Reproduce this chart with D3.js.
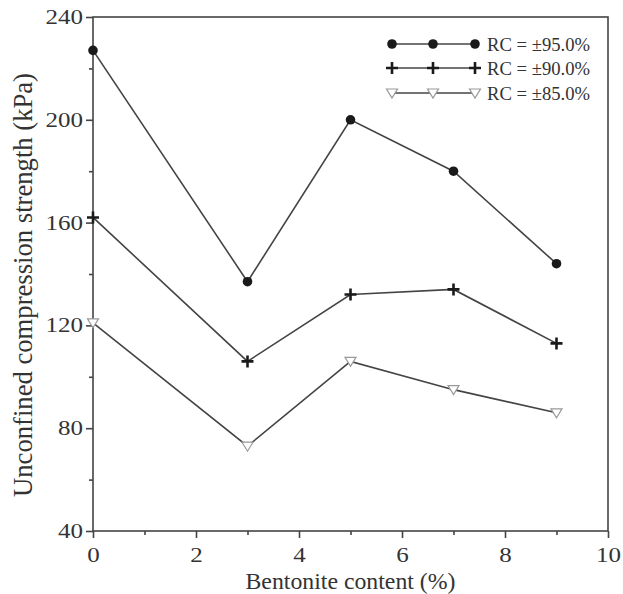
<!DOCTYPE html>
<html>
<head>
<meta charset="utf-8">
<script src="https://cdn.jsdelivr.net/npm/d3@7"></script>
<style>
  html, body { margin: 0; padding: 0; background: #fff; }
  svg { display: block; }
  text { font-family: "Liberation Serif", "Times New Roman", serif; fill: #333; }
</style>
</head>
<body>
<svg id="chart" width="623" height="594"></svg>
<script>
// Bentonite content (%) at each test point
const bentonite = [0, 3, 5, 7, 9];
// Unconfined compression strength (kPa) by relative compaction
const rc95 = [227, 137, 200, 180, 144];
const rc90 = [162, 106, 132, 134, 113];
const rc85 = [121, 73, 106, 95, 86];
const seriesNames = ["RC = \u00b195.0%", "RC = \u00b190.0%", "RC = \u00b185.0%"];
const xTicks = [0, 2, 4, 6, 8, 10];
const yTicks = [40, 80, 120, 160, 200, 240];

const svg = d3.select("#chart");
const plotL = 93, plotR = 608, plotT = 17, plotB = 531;

const x = d3.scaleLinear().domain([0, 10]).range([plotL, plotR]);
const y = d3.scaleLinear().domain([40, 240]).range([plotB, plotT]);

const axisColor = "#444";

// scale glyph advance by factor k (keeps anchor position)
function widen(sel, k) {
  sel.each(function () {
    const w = this.getComputedTextLength();
    d3.select(this).attr("textLength", w * k).attr("lengthAdjust", "spacingAndGlyphs");
  });
}

// frame
svg.append("rect")
  .attr("x", plotL).attr("y", plotT)
  .attr("width", plotR - plotL).attr("height", plotB - plotT)
  .attr("fill", "none").attr("stroke", axisColor).attr("stroke-width", 1.6);

// x axis: major and minor ticks pointing outward
const gx = svg.append("g").attr("transform", `translate(0,${plotB})`);
gx.call(d3.axisBottom(x).tickValues(d3.range(1, 10, 2)).tickSize(4).tickFormat(""));
gx.append("g").call(d3.axisBottom(x).tickValues(xTicks).tickSize(7).tickPadding(10).tickFormat(d3.format("d")));
gx.selectAll(".domain").remove();
gx.selectAll("line").attr("stroke", axisColor).attr("stroke-width", 1.6);
gx.selectAll("text").style("font-size", "20px").style("font-family", "'Liberation Serif', serif").attr("fill", "#333");
widen(gx.selectAll("text").filter(function () { return this.textContent !== ""; }), 1.25);

// y axis
const gy = svg.append("g").attr("transform", `translate(${plotL},0)`);
gy.call(d3.axisLeft(y).tickValues(d3.range(60, 240, 40)).tickSize(4).tickFormat(""));
gy.append("g").call(d3.axisLeft(y).tickValues(yTicks).tickSize(7).tickPadding(3).tickFormat(d3.format("d")));
gy.selectAll(".domain").remove();
gy.selectAll("line").attr("stroke", axisColor).attr("stroke-width", 1.6);
gy.selectAll("text").style("font-size", "20px").style("font-family", "'Liberation Serif', serif").attr("fill", "#333");
widen(gy.selectAll("text").filter(function () { return this.textContent !== ""; }), 1.25);

// axis titles
svg.append("text")
  .attr("x", (plotL + plotR) / 2).attr("y", 589)
  .attr("text-anchor", "middle")
  .attr("textLength", 210).attr("lengthAdjust", "spacingAndGlyphs")
  .style("font-size", "24px")
  .text("Bentonite content (%)");

svg.append("text")
  .attr("transform", `translate(32,285) rotate(-90)`)
  .attr("text-anchor", "middle")
  .attr("textLength", 424).attr("lengthAdjust", "spacingAndGlyphs")
  .style("font-size", "27px")
  .text("Unconfined compression strength (kPa)");

// marker shapes
function drawMarker(g, kind, cx, cy) {
  if (kind === "circle") {
    g.append("circle").attr("cx", cx).attr("cy", cy).attr("r", 4.8).attr("fill", "#1a1a1a");
  } else if (kind === "plus") {
    g.append("path")
      .attr("d", `M${cx - 6},${cy}H${cx + 6}M${cx},${cy - 6}V${cy + 6}`)
      .attr("stroke", "#1a1a1a").attr("stroke-width", 2.6).attr("fill", "none");
  } else {
    g.append("path")
      .attr("d", `M${cx - 5.5},${cy - 4}L${cx + 5.5},${cy - 4}L${cx},${cy + 5}Z`)
      .attr("stroke", "#999").attr("stroke-width", 1.2).attr("fill", "#fff");
  }
}

const series = [
  { name: seriesNames[0], values: rc95, marker: "circle" },
  { name: seriesNames[1], values: rc90, marker: "plus" },
  { name: seriesNames[2], values: rc85, marker: "tri" }
];

const line = d3.line().x(d => x(d[0])).y(d => y(d[1]));

series.forEach(s => {
  const pts = bentonite.map((b, i) => [b, s.values[i]]);
  svg.append("path")
    .attr("d", line(pts))
    .attr("fill", "none").attr("stroke", "#444").attr("stroke-width", 1.6);
  const g = svg.append("g");
  pts.forEach(p => drawMarker(g, s.marker, x(p[0]), y(p[1])));
});

// legend
const legend = svg.append("g");
const legendRows = [44, 68, 93];
series.forEach((s, i) => {
  const ly = legendRows[i];
  legend.append("line")
    .attr("x1", 392).attr("x2", 475).attr("y1", ly).attr("y2", ly)
    .attr("stroke", "#444").attr("stroke-width", 1.6);
  [392, 433, 475].forEach(lx => drawMarker(legend, s.marker, lx, ly));
  legend.append("text")
    .attr("x", 487).attr("y", ly + 6.5)
    .attr("textLength", 103).attr("lengthAdjust", "spacingAndGlyphs")
    .style("font-size", "19px")
    .text(s.name);
});
</script>
</body>
</html>
